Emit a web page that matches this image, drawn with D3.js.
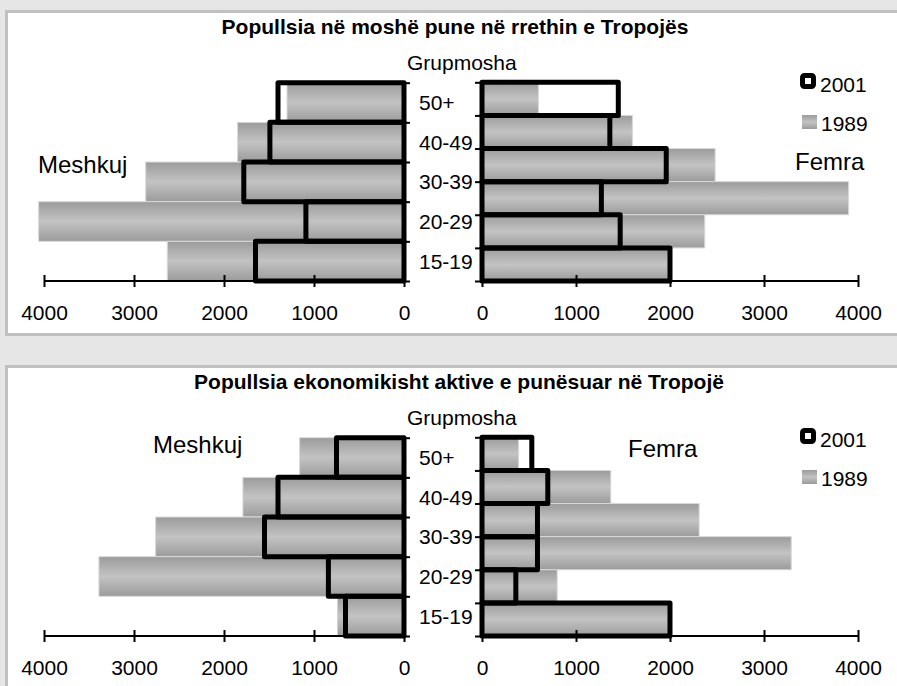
<!DOCTYPE html>
<html><head><meta charset="utf-8">
<script src="https://cdn.jsdelivr.net/npm/d3@7"></script>
<style>
body{margin:0;background:#e6e6e6;}
svg{display:block;font-family:"Liberation Sans",Arial,Helvetica,sans-serif;}
</style>
</head><body>
<svg id="c" width="897" height="686"></svg>
<script>
// ---- data ----
const ageGroups = ["50+", "40-49", "30-39", "20-29", "15-19"];
const femaleBands = ["50-54", "40-49", "30-39", "25-29", "20-24", "15-19"]; // 6 unlabeled bands on the female side
const xTicks = [0, 1000, 2000, 3000, 4000];
const seriesNames = ["2001", "1989"];
const axisTitle = "Grupmosha";
const sideLabels = ["Meshkuj", "Femra"];
const titles = [
  "Popullsia në moshë pune në rrethin e Tropojës",
  "Popullsia ekonomikisht aktive e punësuar në Tropojë"
];
// Chart 1: working-age population
const workMale2001   = [1400, 1490, 1780, 1090, 1650];
const workMale1989   = [1300, 1850, 2870, 4060, 2630];
const workFemale2001 = [1450, 1360, 1960, 1270, 1470, 2000];
const workFemale1989 = [600, 1600, 2480, 3900, 2370, 2000];
// Chart 2: economically active employed population
const empMale2001    = [750, 1400, 1550, 840, 650];
const empMale1989    = [1160, 1790, 2760, 3390, 740];
const empFemale2001  = [530, 700, 590, 590, 360, 2000];
const empFemale1989  = [390, 1370, 2310, 3290, 800, 2000];

// ---- drawing ----
const svg = d3.select("#c");
const defs = svg.append("defs");
const grad = defs.append("linearGradient").attr("id", "g89")
  .attr("x1", 0).attr("y1", 0).attr("x2", 0).attr("y2", 1);
[[0, "#9b9b9b"], [0.5, "#c3c3c3"], [1, "#9b9b9b"]].forEach(([o, c]) =>
  grad.append("stop").attr("offset", o).attr("stop-color", c));

const panels = [
  { off: 0, title: titles[0], titleX: 455, m01: workMale2001, m89: workMale1989, f01: workFemale2001, f89: workFemale1989,
    mPos: [38, 173], fPos: [795, 170], panelH: 323 },
  { off: 355, title: titles[1], titleX: 459, m01: empMale2001, m89: empMale1989, f01: empFemale2001, f89: empFemale1989,
    mPos: [153, 453 - 355], fPos: [628, 456.5 - 355], panelH: 400 }
];

const xL = d3.scaleLinear().domain([0, 4000]).range([404, 44]);
const xR = d3.scaleLinear().domain([0, 4000]).range([482, 858]);
const FONT = "Liberation Sans, Arial, sans-serif";

panels.forEach(p => {
  const g = svg.append("g").attr("transform", `translate(0,${p.off})`);
  g.append("rect").attr("x", 6.5).attr("y", 11.5).attr("width", 920).attr("height", p.panelH)
    .attr("fill", "#fff").attr("stroke", "#c0c0c0").attr("stroke-width", 3);

  const axisY = 281;
  const yL = d3.scaleBand().domain(ageGroups).range([82.7, axisY]).paddingInner(0);
  const yR = d3.scaleBand().domain(femaleBands).range([82.3, axisY]).paddingInner(0);

  // 1989 bars (gray gradient)
  g.append("g").selectAll("rect").data(p.m89).join("rect")
    .attr("x", d => xL(d)).attr("y", (d, i) => yL(ageGroups[i]))
    .attr("width", d => xL(0) - xL(d)).attr("height", yL.bandwidth())
    .attr("fill", "url(#g89)").attr("stroke", "#d9d9d9").attr("stroke-width", 1);
  g.append("g").selectAll("rect").data(p.f89).join("rect")
    .attr("x", xR(0)).attr("y", (d, i) => yR(femaleBands[i]))
    .attr("width", d => xR(d) - xR(0)).attr("height", yR.bandwidth())
    .attr("fill", "url(#g89)").attr("stroke", "#d9d9d9").attr("stroke-width", 1);

  // 2001 bars (thick black outline)
  g.append("g").selectAll("rect").data(p.m01).join("rect")
    .attr("x", d => xL(d)).attr("y", (d, i) => yL(ageGroups[i]))
    .attr("width", d => xL(0) - xL(d)).attr("height", yL.bandwidth())
    .attr("fill", "none").attr("stroke", "#000").attr("stroke-width", 5).attr("stroke-linejoin", "round");
  g.append("g").selectAll("rect").data(p.f01).join("rect")
    .attr("x", xR(0)).attr("y", (d, i) => yR(femaleBands[i]))
    .attr("width", d => xR(d) - xR(0)).attr("height", yR.bandwidth())
    .attr("fill", "none").attr("stroke", "#000").attr("stroke-width", 5).attr("stroke-linejoin", "round");

  // value axes
  [xL, xR].forEach(sc => {
    const ax = g.append("g").attr("transform", `translate(0,${axisY})`)
      .call(d3.axisBottom(sc).tickValues(xTicks).tickFormat(d3.format("d"))
        .tickSize(6).tickSizeOuter(0).tickPadding(0));
    ax.select(".domain").attr("stroke", "#000").attr("stroke-width", 2).attr("d", `M${sc.range()[0]},0H${sc.range()[1]}`);
    ax.selectAll(".tick line").attr("y1", -6).attr("y2", 6).attr("stroke-width", 2);
    ax.selectAll(".tick text").attr("y", 38.5).attr("dy", 0)
      .attr("font-size", 21).attr("font-family", FONT).attr("fill", "#000");
  });

  // category axes: boundary ticks
  const bL = d3.scalePoint().domain(d3.range(ageGroups.length + 1)).range(yL.range());
  const bR = d3.scalePoint().domain(d3.range(femaleBands.length + 1)).range(yR.range());
  const axL = g.append("g").attr("transform", `translate(${xL(0)},0)`)
    .call(d3.axisRight(bL).tickSize(6).tickSizeOuter(0).tickFormat(""));
  axL.select(".domain").attr("stroke-width", 2);
  axL.selectAll(".tick line").attr("stroke-width", 2);
  const axR = g.append("g").attr("transform", `translate(${xR(0)},0)`)
    .call(d3.axisLeft(bR).tickSize(7).tickSizeOuter(0).tickFormat(""));
  axR.select(".domain").attr("stroke-width", 2);
  axR.selectAll(".tick line").attr("stroke-width", 2);

  // category labels
  const lab = g.append("g").attr("transform", `translate(${xL(0)},0)`)
    .call(d3.axisRight(yL).tickSize(0).tickPadding(15));
  lab.select(".domain").remove();
  lab.selectAll(".tick text").attr("font-size", 21).attr("dy", "0.35em")
    .attr("font-family", FONT).attr("fill", "#000");

  // titles and labels
  g.append("text").attr("x", p.titleX).attr("y", 34).attr("text-anchor", "middle")
    .attr("font-size", 21).attr("font-weight", "bold").text(p.title);
  g.append("text").attr("x", 407).attr("y", 69.5).attr("font-size", 21).text(axisTitle);
  g.append("text").attr("x", p.mPos[0]).attr("y", p.mPos[1]).attr("font-size", 24).text(sideLabels[0]);
  g.append("text").attr("x", p.fPos[0]).attr("y", p.fPos[1]).attr("font-size", 24).text(sideLabels[1]);

  // legend
  const lg = g.append("g");
  lg.append("rect").attr("x", 802.5).attr("y", 75.5).attr("width", 11).attr("height", 11).attr("rx", 2)
    .attr("fill", "#fff").attr("stroke", "#000").attr("stroke-width", 5);
  lg.append("text").attr("x", 820).attr("y", 91.5).attr("font-size", 21).text(seriesNames[0]);
  lg.append("rect").attr("x", 802).attr("y", 115).attr("width", 15).attr("height", 14)
    .attr("fill", "url(#g89)");
  lg.append("text").attr("x", 821).attr("y", 131).attr("font-size", 21).text(seriesNames[1]);
});
</script>
</body></html>
